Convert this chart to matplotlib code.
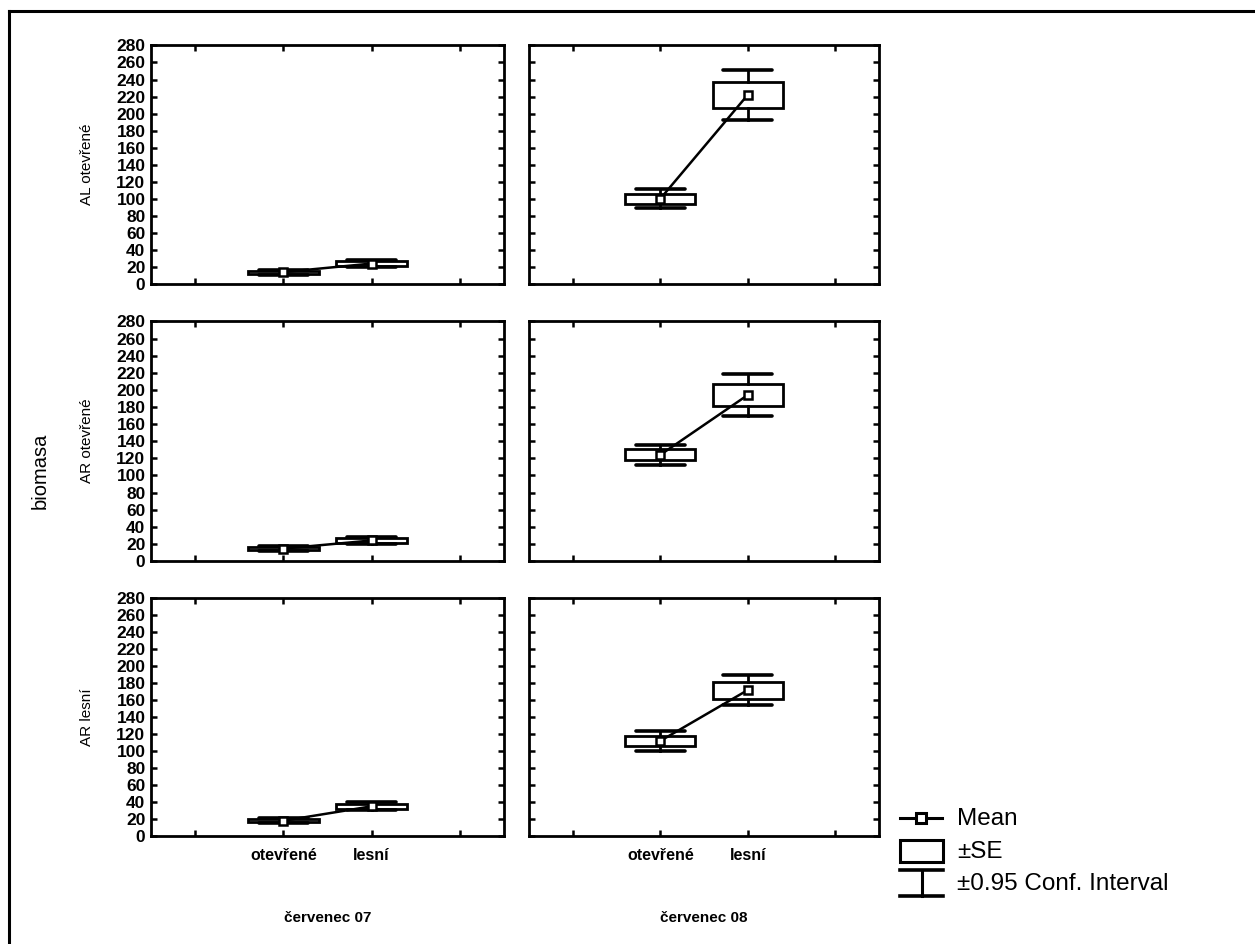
import matplotlib
matplotlib.use("Agg")
import matplotlib.pyplot as plt
from matplotlib.patches import Rectangle

plt.rcParams['font.family'] = ['Liberation Sans', 'DejaVu Sans']

# ---- data ----
row_labels = ["AL otevřené", "AR otevřené", "AR lesní"]
period_labels = ["červenec 07", "červenec 08"]
categories = ["otevřené", "lesní"]

means_07 = [[14, 24], [14.5, 24], [18, 35]]
se_07 = [[1.8, 3.0], [2.0, 3.0], [1.8, 3.2]]
ci_07 = [[3.0, 4.0], [3.0, 4.5], [2.8, 4.8]]

means_08 = [[100, 222], [124, 194], [112, 172]]
se_08 = [[6, 15], [6.5, 12.5], [6, 10]]
ci_08 = [[11, 29], [12, 24], [11.5, 18]]

yticks = list(range(0, 281, 20))

W, H = 1255, 944
fig = plt.figure(figsize=(W / 100, H / 100), dpi=100)

col_x = [151, 529]
col_w = [353, 350]
row_top = [45, 321, 598]
row_bot = [284, 561, 836]

LW = 2.0
BOX_HW = 0.4
CAP_HW = 0.28

def draw_panel(ax, means, ses, cis):
    xs = [i + 1 for i in range(len(means))]
    for x, m, s, c in zip(xs, means, ses, cis):
        ax.add_patch(Rectangle((x - BOX_HW, m - s), 2 * BOX_HW, 2 * s,
                               facecolor='white', edgecolor='black', lw=LW, zorder=2))
        ax.plot([x, x], [m + s, m + c], color='black', lw=LW, zorder=2)
        ax.plot([x, x], [m - c, m - s], color='black', lw=LW, zorder=2)
        ax.plot([x - CAP_HW, x + CAP_HW], [m + c, m + c], color='black', lw=2.6,
                zorder=2, solid_capstyle='round')
        ax.plot([x - CAP_HW, x + CAP_HW], [m - c, m - c], color='black', lw=2.6,
                zorder=2, solid_capstyle='round')
    ax.plot(xs, means, color='black', lw=1.8, marker='s', markersize=5.5,
            markerfacecolor='white', markeredgecolor='black', markeredgewidth=1.8, zorder=3)

data = [(means_07, se_07, ci_07), (means_08, se_08, ci_08)]

for r in range(3):
    for c in range(2):
        left = col_x[c] / W
        width = col_w[c] / W
        bottom = 1 - row_bot[r] / H
        height = (row_bot[r] - row_top[r]) / H
        ax = fig.add_axes([left, bottom, width, height])
        m, s, ci = data[c]
        draw_panel(ax, m[r], s[r], ci[r])
        ax.set_xlim(-0.5, 3.5)
        ax.set_ylim(0, 280.5)
        ax.set_xticks([0, 1, 2, 3])
        ax.set_yticks(yticks)
        ax.tick_params(direction='in', length=4, width=1.8, top=True, right=True,
                       labelsize=12.5, pad=4)
        for sp in ax.spines.values():
            sp.set_linewidth(2.0)
        if c == 0:
            ax.set_yticklabels([str(v) for v in yticks], fontweight='bold')
            fig.text(87 / W, 1 - (row_top[r] + row_bot[r]) / 2 / H, row_labels[r],
                     rotation=90, ha='center', va='center', fontsize=11)
        else:
            ax.set_yticklabels([])
        if r == 2:
            ax.set_xticklabels([""] + categories + [""], fontweight='bold', fontsize=11.5)
            ax.tick_params(axis='x', pad=9)
            fig.text((col_x[c] + col_w[c] / 2) / W, 1 - 918 / H, period_labels[c],
                     ha='center', va='center', fontsize=11, fontweight='bold')
        else:
            ax.set_xticklabels([])

# overlay axes in pixel coordinates for frame, common label and legend
ov = fig.add_axes([0, 0, 1, 1], facecolor='none')
ov.set_xlim(0, W)
ov.set_ylim(H, 0)
ov.axis('off')

ov.plot([9, W + 5], [11, 11], color='black', lw=2.2, clip_on=False)
ov.plot([9, 9], [11, H + 5], color='black', lw=2.2, clip_on=False)

ov.text(40, 471, "biomasa", rotation=90, ha='center', va='center', fontsize=14.5)

# legend
ov.plot([900, 942], [818, 818], color='black', lw=2.2)
ov.plot([921], [818], marker='s', markersize=7, markerfacecolor='white',
        markeredgecolor='black', markeredgewidth=2.2)
ov.text(957, 819, "Mean", ha='left', va='center', fontsize=17.5)
ov.add_patch(Rectangle((900, 840), 43, 22, facecolor='white', edgecolor='black', lw=2.2))
ov.text(957, 852, "±SE", ha='left', va='center', fontsize=17.5)
ov.plot([900, 943], [870, 870], color='black', lw=2.6)
ov.plot([900, 943], [896, 896], color='black', lw=2.6)
ov.plot([921.5, 921.5], [870, 896], color='black', lw=2.2)
ov.text(957, 884, "±0.95 Conf. Interval", ha='left', va='center', fontsize=17.5)

fig.savefig("out.png", dpi=100)
